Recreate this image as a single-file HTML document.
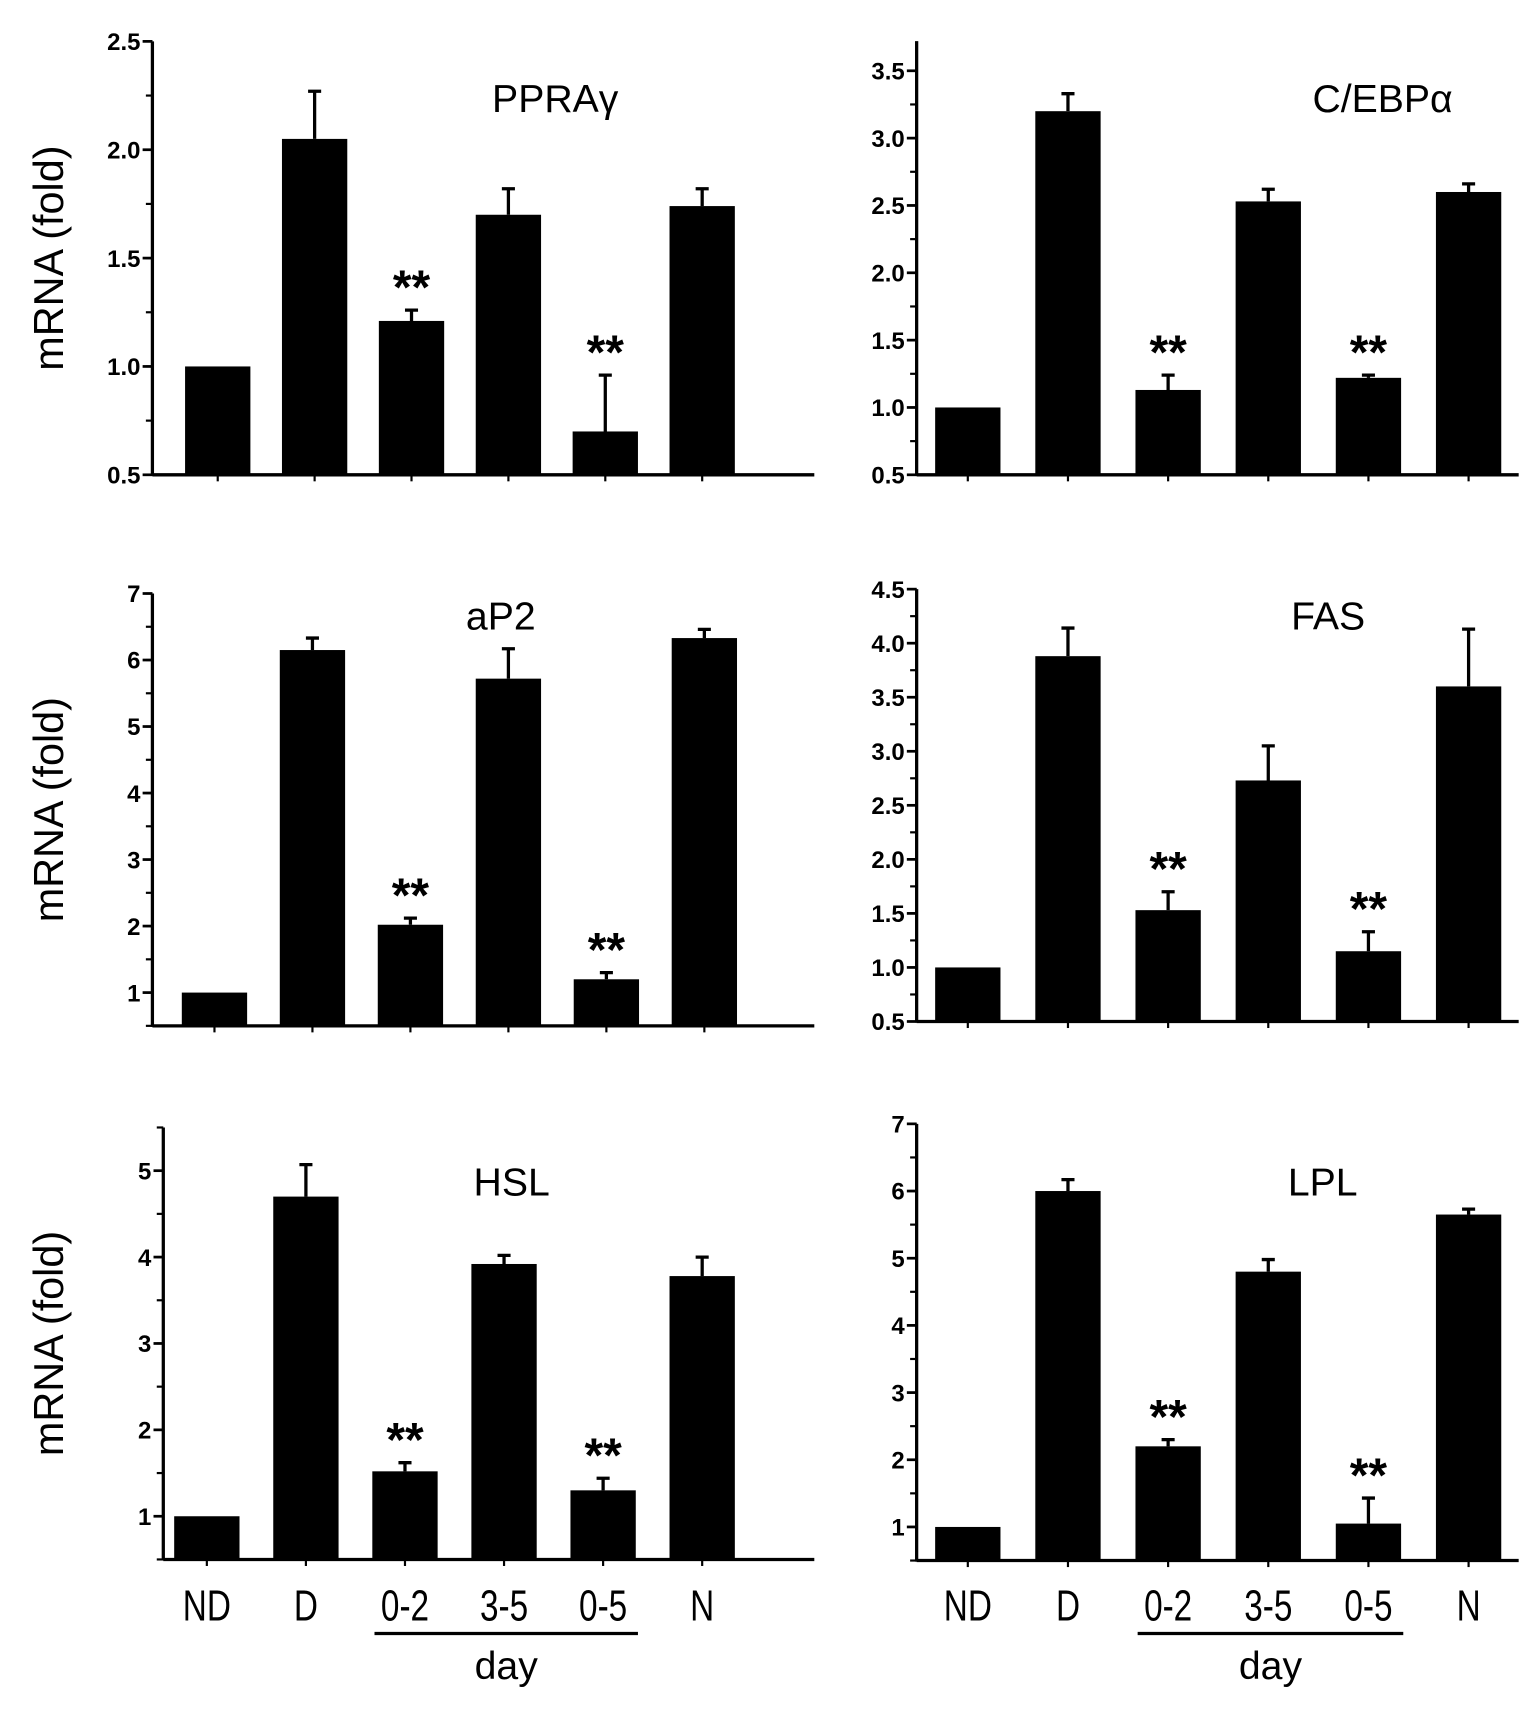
<!DOCTYPE html>
<html><head><meta charset="utf-8"><style>
html,body{margin:0;padding:0;background:#fff}
svg{display:block}
text{font-family:"Liberation Sans",sans-serif;fill:#000}
</style></head><body>
<svg id="fig" width="1535" height="1713" viewBox="0 0 1410 1573" preserveAspectRatio="none" xmlns="http://www.w3.org/2000/svg"></svg>
<script>
const categories = ["ND","D","0-2","3-5","0-5","N"];
const pparValues = [1.0, 2.05, 1.21, 1.70, 0.70, 1.74];
const pparErrors = [0, 0.22, 0.05, 0.12, 0.26, 0.08];
const cebpValues = [1.0, 3.2, 1.13, 2.53, 1.22, 2.6];
const cebpErrors = [0, 0.13, 0.11, 0.09, 0.02, 0.06];
const ap2Values = [1.0, 6.15, 2.02, 5.72, 1.2, 6.33];
const ap2Errors = [0, 0.18, 0.1, 0.45, 0.1, 0.13];
const fasValues = [1.0, 3.88, 1.53, 2.73, 1.15, 3.6];
const fasErrors = [0, 0.26, 0.17, 0.32, 0.18, 0.53];
const hslValues = [1.0, 4.7, 1.52, 3.92, 1.3, 3.78];
const hslErrors = [0, 0.37, 0.1, 0.1, 0.14, 0.22];
const lplValues = [1.0, 6.0, 2.2, 4.8, 1.05, 5.65];
const lplErrors = [0, 0.17, 0.1, 0.18, 0.38, 0.08];
const sigMarks = [false, false, true, false, true, false];
const ticksHalf1 = ["0.5","1.0","1.5","2.0","2.5"];
const ticksHalf2 = ["0.5","1.0","1.5","2.0","2.5","3.0","3.5"];
const ticksInt7 = ["1","2","3","4","5","6","7"];
const ticksHalf3 = ["0.5","1.0","1.5","2.0","2.5","3.0","3.5","4.0","4.5"];
const ticksInt5 = ["1","2","3","4","5"];

const NS="http://www.w3.org/2000/svg";
const svg=document.getElementById('fig');
function mk(tag,attrs,parent){const e=document.createElementNS(NS,tag);for(const k in attrs)e.setAttribute(k,attrs[k]);(parent||svg).appendChild(e);return e;}

const panels=[
 {name:"ppar",title:"PPRAγ",vals:pparValues,errs:pparErrors,ticks:ticksHalf1,ax:140,axEnd:748,c0:200,step:89,vBot:0.5,pBot:436,vRef:2.5,pRef:38,vTop:2.5,minor:0.25,tx:510,ty:90,left:true},
 {name:"cebp",title:"C/EBPα",vals:cebpValues,errs:cebpErrors,ticks:ticksHalf2,ax:842,axEnd:1395,c0:889,step:92,vBot:0.5,pBot:436,vRef:3.5,pRef:65,vTop:3.72,minor:0.25,tx:1270,ty:90,left:false},
 {name:"ap2",title:"aP2",vals:ap2Values,errs:ap2Errors,ticks:ticksInt7,ax:140,axEnd:748,c0:197,step:90,vBot:0.5,pBot:942,vRef:7,pRef:545,vTop:7,minor:0.5,tx:460,ty:565,left:true},
 {name:"fas",title:"FAS",vals:fasValues,errs:fasErrors,ticks:ticksHalf3,ax:842,axEnd:1395,c0:889,step:92,vBot:0.5,pBot:938,vRef:4.5,pRef:541,vTop:4.5,minor:0.25,tx:1220,ty:565,left:false},
 {name:"hsl",title:"HSL",vals:hslValues,errs:hslErrors,ticks:ticksInt5,ax:150,axEnd:748,c0:190,step:91,vBot:0.5,pBot:1432,vRef:5,pRef:1075,vTop:5.5,minor:0.5,tx:470,ty:1085,left:true,bottom:true},
 {name:"lpl",title:"LPL",vals:lplValues,errs:lplErrors,ticks:ticksInt7,ax:842,axEnd:1395,c0:889,step:92,vBot:0.5,pBot:1433,vRef:7,pRef:1032,vTop:7,minor:0.5,tx:1215,ty:1085,left:false,bottom:true}
];

panels.forEach(p=>{
  const g=mk('g',{});
  
  
  const y=v=>p.pBot+(v-p.vBot)*(p.pRef-p.pBot)/(p.vRef-p.vBot);
  const bw=60;
  p.vals.forEach((v,i)=>{
    const cx=p.c0+i*p.step;
    const r=mk('rect',{x:cx-bw/2,y:y(v),width:bw,height:p.pBot-y(v),fill:'#000'},g);
    
    
    if(p.errs[i]>0){
      const top=y(v+p.errs[i]);
      const e=mk('path',{d:`M${cx} ${y(v)}V${top}M${cx-6} ${top}H${cx+6}`,stroke:'#000','stroke-width':3,fill:'none'},g);
      
      
    }
    if(sigMarks[i]){
      const t=mk('text',{x:cx,y:y(v+p.errs[i])-6,'font-size':44,'font-weight':'bold','text-anchor':'middle'},g);
      t.textContent='**';
      
      
    }
    mk('line',{x1:cx,x2:cx,y1:p.pBot,y2:p.pBot+6,stroke:'#000','stroke-width':2},g);
  });
  const ya=mk('line',{x1:p.ax,x2:p.ax,y1:y(p.vTop),y2:p.pBot+1,stroke:'#000','stroke-width':3},g);
  
  
  const xa=mk('line',{x1:p.ax,x2:p.axEnd,y1:p.pBot,y2:p.pBot,stroke:'#000','stroke-width':3},g);
  
  
  for(let v=p.vBot;v<=p.vTop+1e-6;v+=p.minor){
    mk('line',{x1:p.ax-6,x2:p.ax,y1:y(v),y2:y(v),stroke:'#000','stroke-width':2},g);
  }
  p.ticks.forEach(s=>{
    const v=parseFloat(s);
    mk('line',{x1:p.ax-9,x2:p.ax,y1:y(v),y2:y(v),stroke:'#000','stroke-width':2.5},g);
    const t=mk('text',{x:p.ax-11,y:y(v)+8,'font-size':22,'font-weight':'bold','text-anchor':'end'},g);
    t.textContent=s;
    
    
  });
  const tt=mk('text',{x:p.tx,y:p.ty+13,'font-size':36,'text-anchor':'middle'},g);
  tt.textContent=p.title;
  
  
  if(p.left){
    const cy=(y(p.vTop)+p.pBot)/2;
    const yl=mk('text',{x:0,y:0,'font-size':38,'text-anchor':'middle',transform:`translate(58 ${cy}) rotate(-90)`},g);
    yl.textContent='mRNA (fold)';
    
    
  }
  if(p.bottom){
    categories.forEach((c,i)=>{
      const cx=p.c0+i*p.step;
      const t=mk('text',{x:0,y:0,'font-size':36,'text-anchor':'middle',transform:`translate(${cx} 1488) scale(0.85 1.1)`},g);
      t.textContent=c;
      
      
    });
    const x1=p.c0+2*p.step-28, x2=p.c0+4*p.step+32;
    const ul=mk('line',{x1:x1,x2:x2,y1:1500,y2:1500,stroke:'#000','stroke-width':3},g);
    
    
    const d=mk('text',{x:(x1+x2)/2,y:1542,'font-size':36,'text-anchor':'middle'},g);
    d.textContent='day';
    
    
  }
});
</script>
</body></html>
